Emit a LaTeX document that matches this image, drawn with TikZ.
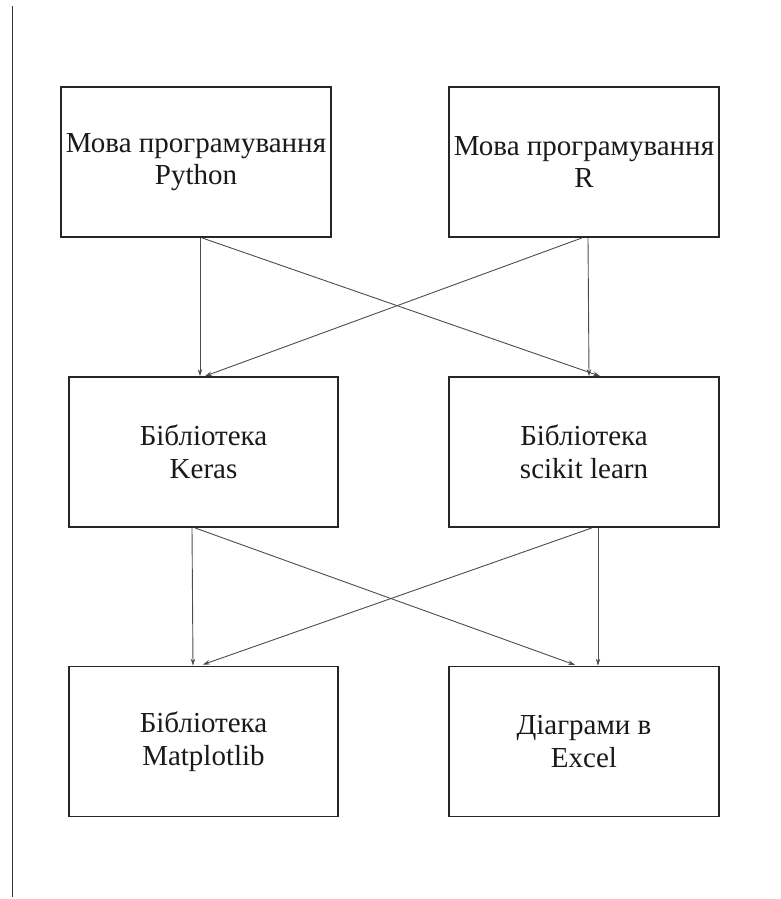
\documentclass[tikz,border=0pt]{standalone}
\usepackage{fontspec}
\setmainfont{Liberation Serif}
\usetikzlibrary{arrows.meta,calc}
\begin{document}
\begin{tikzpicture}[x=1pt,y=1pt,
  box/.style={draw=black!85, line width=1.8pt, minimum width=270pt, minimum height=150pt,
    inner sep=0pt, align=center, font=\fontsize{29}{32.5}\selectfont, text=black!90},
  arr/.style={draw=black!70, line width=0.9pt, -{Stealth[length=7pt,width=4.5pt]}}]
\useasboundingbox (0,0) rectangle (781,-899);
\coordinate (lt) at (12.5,-6);
\coordinate (lb) at (12.5,-897);
\draw[line width=1.3pt, black!80] (lt) -- (lb);
\node[box] (p) at (196,-162) {Мова програмування\\Python};
\node[box] (r) at (584,-162) {Мова програмування\\R};
\node[box, minimum width=269pt] (k) at (203.5,-452) {Бібліотека\\Keras};
\node[box] (s) at (584,-452) {Бібліотека\\scikit learn};
\node[box, minimum width=269pt] (m) at (203.5,-741.5) {Бібліотека\\Matplotlib};
\node[box] (e) at (584,-741.5) {Діаграми в\\Excel};
\draw[arr] ([xshift=4pt]p.south) -- ([xshift=-3.5pt]k.north);
\draw[arr] ([xshift=6pt]p.south) -- ([xshift=16pt]s.north);
\draw[arr] ([xshift=-2pt]r.south) -- ([xshift=1.5pt]k.north);
\draw[arr] ([xshift=4pt]r.south) -- ([xshift=5pt]s.north);
\draw[arr] ([xshift=-11.5pt]k.south) -- ([xshift=-10.5pt]m.north);
\draw[arr, shorten >=2pt] ([xshift=-8.5pt]k.south) -- ([xshift=-7pt]e.north);
\draw[arr, shorten >=3pt] ([xshift=8pt]s.south) -- ([xshift=-3.5pt]m.north);
\draw[arr] ([xshift=14pt]s.south) -- ([xshift=14pt]e.north);
\end{tikzpicture}
\end{document}
